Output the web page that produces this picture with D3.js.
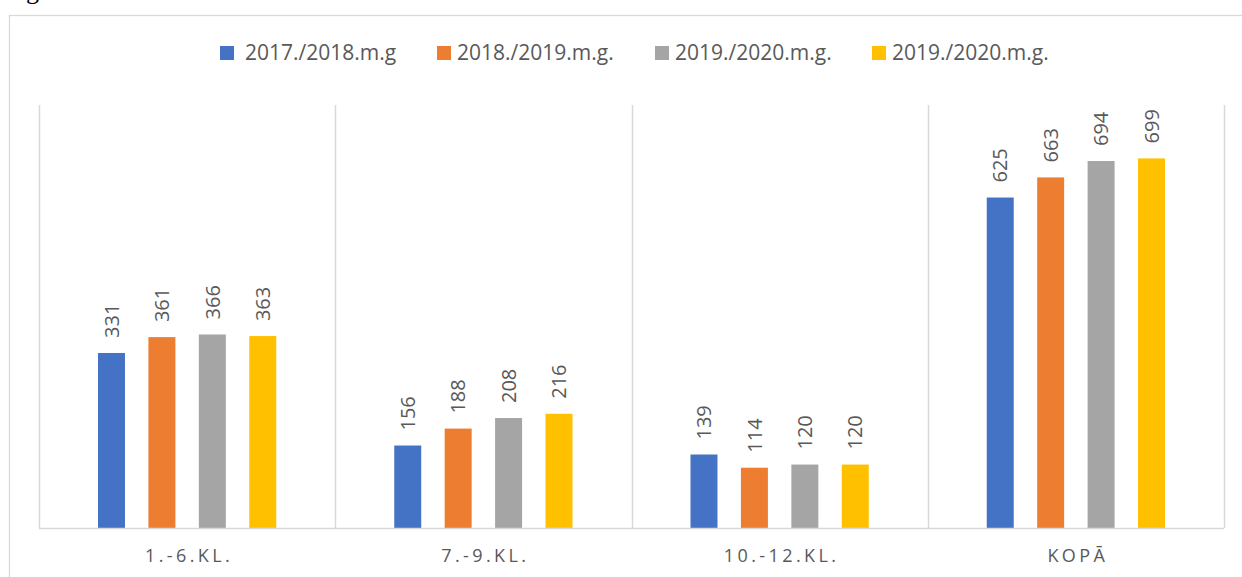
<!DOCTYPE html>
<html>

<head>
    <meta charset="UTF-8">
    <title>Skolēnu skaits</title>
    <style>
        body { margin: 0; background: #fff; }
        svg { display: block; }
    </style>
</head>

<body>

    <svg id="chart"></svg>

    <script src="https://cdn.jsdelivr.net/npm/d3@7"></script>
    <script>
        const width = 1242;
        const height = 577;

        // dati
        const categories = ['1.-6.KL.', '7.-9.KL.', '10.-12.KL.', 'KOPĀ'];
        const seriesNames = ['2017./2018.m.g', '2018./2019.m.g.', '2019./2020.m.g.', '2019./2020.m.g.'];
        const seriesColors = ['#4472C4', '#ED7D31', '#A5A5A5', '#FFC000'];
        const s2017 = [331, 156, 139, 625];
        const s2018 = [361, 188, 114, 663];
        const s2019 = [366, 208, 120, 694];
        const s2020 = [363, 216, 120, 699];
        const seriesValues = [s2017, s2018, s2019, s2020];
        const yMax = 800;

        // legendas x pozīcijas (kvadrāta kreisā mala)
        const legendX = [220, 437, 655, 872];

        const margin = { top: 105, right: 18, bottom: 49, left: 39 };
        const plotW = width - margin.left - margin.right;
        const plotH = height - margin.top - margin.bottom;

        const svg = d3.select('#chart')
            .attr('width', width)
            .attr('height', height);

        // rāmis un nogrieztais teksts augšā
        svg.append('rect')
            .attr('x', 9.5)
            .attr('y', 15.5)
            .attr('width', width)
            .attr('height', height)
            .style('fill', 'none')
            .style('stroke', '#d9d9d9')
            .style('stroke-width', 1.3);

        svg.append('text')
            .attr('x', 26)
            .attr('y', -1)
            .style('font-family', 'Liberation Serif, serif')
            .style('font-size', '26px')
            .style('fill', '#000')
            .text('g');

        const g = svg.append('g')
            .attr('transform', `translate(${margin.left},${margin.top})`);

        const x0 = d3.scaleBand()
            .domain(categories)
            .range([0, plotW])
            .padding(0);

        const x1 = d3.scaleBand()
            .domain(d3.range(seriesValues.length))
            .range([0, x0.bandwidth()])
            .paddingInner(0.465)
            .paddingOuter(1.17);

        const y = d3.scaleLinear()
            .domain([0, yMax])
            .range([plotH, 0]);

        // vertikālās atdalītājlīnijas
        g.append('g')
            .selectAll('line')
            .data(d3.range(categories.length + 1))
            .enter()
            .append('line')
            .attr('x1', d => Math.round(d * x0.step()) + 0.5)
            .attr('x2', d => Math.round(d * x0.step()) + 0.5)
            .attr('y1', 0)
            .attr('y2', plotH)
            .style('stroke', '#d9d9d9')
            .style('stroke-width', 1.5);

        // stabiņi
        const groups = g.append('g')
            .selectAll('g')
            .data(categories)
            .enter()
            .append('g')
            .attr('transform', d => `translate(${x0(d)},0)`);

        groups.selectAll('rect')
            .data((c, ci) => seriesValues.map((vals, si) => ({ si: si, v: vals[ci] })))
            .enter()
            .append('rect')
            .attr('x', d => x1(d.si))
            .attr('y', d => y(d.v))
            .attr('width', x1.bandwidth())
            .attr('height', d => plotH - y(d.v))
            .style('fill', d => seriesColors[d.si]);

        groups.selectAll('text')
            .data((c, ci) => seriesValues.map((vals, si) => ({ si: si, v: vals[ci] })))
            .enter()
            .append('text')
            .attr('transform', d => `translate(${x1(d.si) + x1.bandwidth() / 2},${y(d.v) - 15}) rotate(-90)`)
            .attr('dy', '0.36em')
            .style('font-family', 'Open Sans, sans-serif')
            .style('font-size', '20px')
            .style('fill', '#595959')
            .text(d => d.v);

        // bāzes līnija
        g.append('line')
            .attr('x1', 0)
            .attr('x2', plotW)
            .attr('y1', plotH + 0.5)
            .attr('y2', plotH + 0.5)
            .style('stroke', '#d9d9d9')
            .style('stroke-width', 1.5);

        // kategoriju nosaukumi
        g.append('g')
            .selectAll('text')
            .data(categories)
            .enter()
            .append('text')
            .attr('x', d => x0(d) + x0.bandwidth() / 2 + 2)
            .attr('y', plotH + 34)
            .attr('text-anchor', 'middle')
            .style('font-family', 'Open Sans, sans-serif')
            .style('font-size', '18px')
            .style('letter-spacing', '3.4px')
            .style('fill', '#595959')
            .text(d => d);

        // leģenda
        const legend = svg.append('g')
            .selectAll('g')
            .data(seriesNames)
            .enter()
            .append('g')
            .attr('transform', (d, i) => `translate(${legendX[i]},46)`);

        legend.append('rect')
            .attr('width', 14)
            .attr('height', 14)
            .style('fill', (d, i) => seriesColors[i]);

        legend.append('text')
            .attr('x', (d, i) => i === 0 ? 25 : 20)
            .attr('y', 14)
            .style('font-family', 'Open Sans, sans-serif')
            .style('font-size', '21px')
            .style('fill', '#595959')
            .text(d => d);
    </script>
</body>

</html>
